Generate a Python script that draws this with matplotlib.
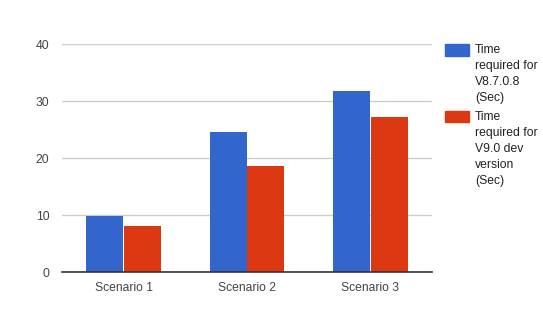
import matplotlib
matplotlib.use("Agg")
import matplotlib.pyplot as plt
from matplotlib.patches import Rectangle
import numpy as np

plt.rcParams['font.family'] = ['Liberation Sans', 'DejaVu Sans']

categories = ["Scenario 1", "Scenario 2", "Scenario 3"]
v8708_times = [9.9, 24.6, 31.8]
v90dev_times = [8.1, 18.6, 27.2]
series_labels = [
    ["Time", "required for", "V8.7.0.8", "(Sec)"],
    ["Time", "required for", "V9.0 dev", "version", "(Sec)"],
]
yticks = [0, 10, 20, 30, 40]

BLUE = "#3366cc"
RED = "#dc3912"
W, H = 543, 328

fig = plt.figure(figsize=(W / 100, H / 100), dpi=100)
ax = fig.add_axes([62 / W, (H - 272.3) / H, 370 / W, 228 / H])

x = np.arange(len(categories))
bw = 0.302
ax.bar(x - bw / 2 - 0.002, v8708_times, width=bw, color=BLUE, zorder=3)
ax.bar(x + bw / 2 + 0.002, v90dev_times, width=bw, color=RED, zorder=3)

ax.set_xlim(-0.5, 2.5)
ax.set_ylim(0, 40)
ax.set_yticks(yticks)
ax.set_xticks(x)
ax.set_xticklabels(categories)
ax.tick_params(axis="both", length=0, labelsize=8.7, colors="#444444")
ax.tick_params(axis="y", pad=9)
ax.tick_params(axis="x", pad=7)
ax.grid(axis="y", color="#cccccc", linewidth=1, zorder=0)
for side in ["left", "right", "top"]:
    ax.spines[side].set_visible(False)
ax.spines["bottom"].set_color("#333333")
ax.spines["bottom"].set_linewidth(1.2)
ax.spines["bottom"].set_zorder(4)

# Legend on the right: colour swatch beside the first line of a wrapped label
entry_tops = [44, 110.7]
for top, color, lines in zip(entry_tops, [BLUE, RED], series_labels):
    fig.patches.append(Rectangle((445 / W, (H - top - 11.7) / H), 24 / W, 11.7 / H,
                                 transform=fig.transFigure, color=color))
    for i, line in enumerate(lines):
        yc = top + 6 + 16 * i
        fig.text(475 / W, (H - yc) / H, line, fontsize=8.7, color="#222222",
                 va="center", ha="left")

fig.savefig("out.png", dpi=100)
